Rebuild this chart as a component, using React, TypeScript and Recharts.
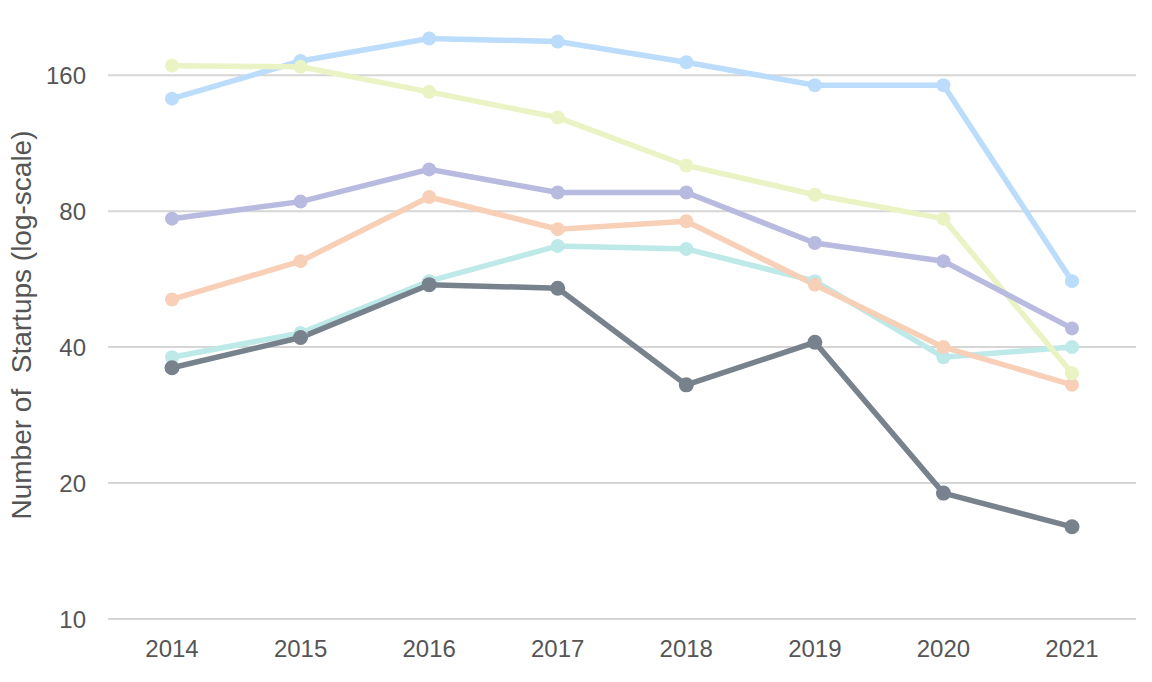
import React from 'react';
import { LineChart, Line, XAxis, YAxis, CartesianGrid } from 'recharts';

const years = ['2014', '2015', '2016', '2017', '2018', '2019', '2020', '2021'];
const seriesBlue = [142, 172, 193, 190, 171, 152, 152, 56];
const seriesTeal = [38, 43, 56, 67, 66, 56, 38, 40];
const seriesOrange = [51, 62, 86, 73, 76, 55, 40, 33];
const seriesYellow = [168, 167, 147, 129, 101, 87, 77, 35];
const seriesPurple = [77, 84, 99, 88, 88, 68, 62, 44];
const seriesGray = [36, 42, 55, 54, 33, 41, 19, 16];
const yTicks = [10, 20, 40, 80, 160];

const series = [
  { key: 'blue', values: seriesBlue, color: '#bbdcfb', r: 7 },
  { key: 'teal', values: seriesTeal, color: '#bde9e8', r: 7 },
  { key: 'orange', values: seriesOrange, color: '#f8cfb7', r: 7 },
  { key: 'yellow', values: seriesYellow, color: '#e9f3c3', r: 7 },
  { key: 'purple', values: seriesPurple, color: '#b9badf', r: 7 },
  { key: 'gray', values: seriesGray, color: '#78828d', r: 7.5 },
];

const data = years.map((y, i) => {
  const row: Record<string, any> = { year: y };
  series.forEach((s) => {
    row[s.key] = s.values[i];
  });
  return row;
});

const font = 'Liberation Sans, Arial, Helvetica, sans-serif';

const YLabel = (props: any) => {
  const vb = props.viewBox || {};
  const cy = (vb.y ?? 11) + (vb.height ?? 608) / 2 + 10;
  const cx = 21;
  return (
    <text
      x={cx}
      y={cy}
      transform={`rotate(-90, ${cx}, ${cy})`}
      textAnchor="middle"
      dominantBaseline="central"
      fill="#555"
      fontSize={28}
      fontFamily={font}
      style={{ whiteSpace: 'pre' }}
    >
      {'Number of\u00A0 Startups (log-scale)'}
    </text>
  );
};

export default function App() {
  return (
    <div style={{ position: 'absolute', left: 0, top: 0, width: 1152, height: 682, background: '#fff' }}>
      <LineChart width={1152} height={682} data={data} margin={{ top: 11, right: 16, bottom: 0, left: 0 }}>
        <CartesianGrid vertical={false} stroke="#d6d6d6" strokeWidth={2} syncWithTicks />
        <XAxis
          dataKey="year"
          axisLine={false}
          tickLine={false}
          tickSize={0}
          tickMargin={21}
          height={63}
          padding={{ left: 64, right: 64 }}
          tick={{ fill: '#555', fontSize: 24, fontFamily: font }}
          interval={0}
        />
        <YAxis
          scale="log"
          domain={[10, 222]}
          allowDataOverflow
          ticks={yTicks}
          axisLine={false}
          tickLine={false}
          tickSize={0}
          tickMargin={22}
          width={108}
          tick={{ fill: '#555', fontSize: 24, fontFamily: font }}
          label={<YLabel />}
        />
        {series.map((s) => (
          <Line
            key={s.key}
            dataKey={s.key}
            stroke={s.color}
            strokeWidth={5.5}
            dot={{ r: s.r, fill: s.color, stroke: 'none' }}
            activeDot={false}
            isAnimationActive={false}
          />
        ))}
      </LineChart>
    </div>
  );
}
